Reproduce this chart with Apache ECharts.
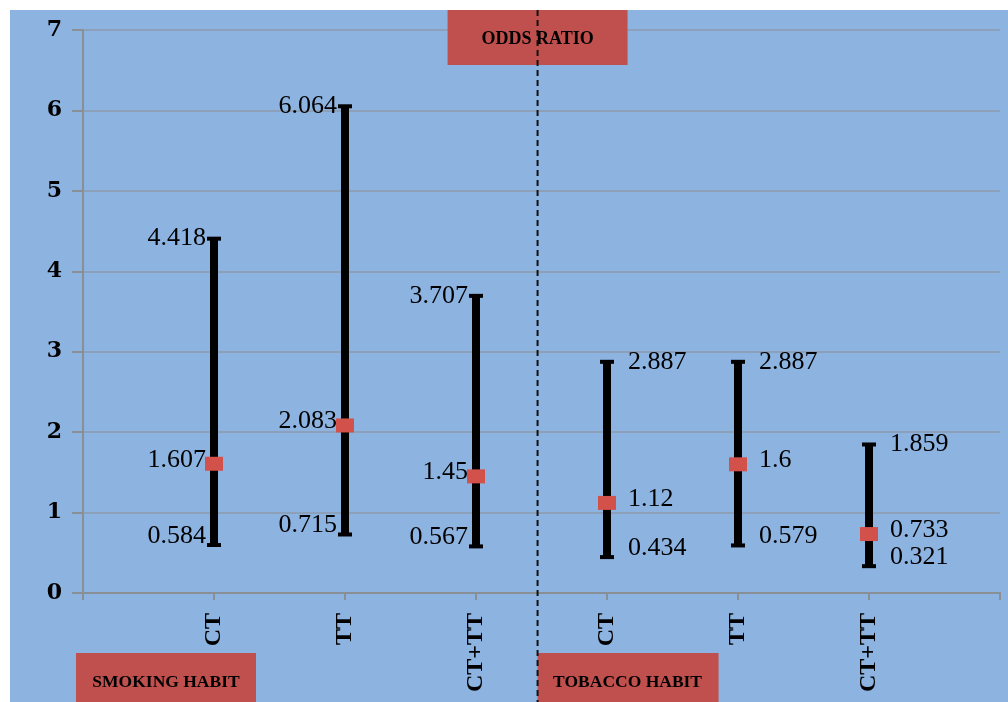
<!DOCTYPE html>
<html>
<head>
<meta charset="utf-8">
<script src="https://cdn.jsdelivr.net/npm/echarts@6/dist/echarts.min.js"></script>
<style>
  html, body { margin: 0; padding: 0; background: #ffffff; }
  #chart { width: 1008px; height: 702px; }
</style>
</head>
<body>
<div id="chart"></div>
<script>
// Genotype groups along the x axis (first three: smoking, last three: tobacco)
const categories = ['CT', 'TT', 'CT+TT', 'CT', 'TT', 'CT+TT'];
// Odds ratio point estimates and 95% confidence limits
const oddsRatio = [1.607, 2.083, 1.45, 1.12, 1.6, 0.733];
const ciLower   = [0.584, 0.715, 0.567, 0.434, 0.579, 0.321];
const ciUpper   = [4.418, 6.064, 3.707, 2.887, 2.887, 1.859];
// Value axis ticks
const yTicks = [0, 1, 2, 3, 4, 5, 6, 7];
// Group captions and heading
const groupNames = ['SMOKING HABIT', 'TOBACCO HABIT'];
const heading = 'ODDS RATIO';
// Position (x units) of the divider between the two habit groups
const groupDivider = 3.47;

const SERIF = '"Liberation Serif", "Times New Roman", serif';
const BOX_RED = '#C0504D';
const MARK_RED = '#D3514B';

// x slots: 0 and 7 are empty padding, groups sit at 1..6
const rows = categories.map((c, i) => [i + 1, ciLower[i], oddsRatio[i], ciUpper[i], i < 3 ? 0 : 1]);

function renderItem(params, api) {
  const x = api.value(0);
  const lo = api.coord([x, api.value(1)]);
  const mid = api.coord([x, api.value(2)]);
  const hi = api.coord([x, api.value(3)]);
  const onLeft = api.value(4) === 0;
  const cx = lo[0];
  const tx = onLeft ? cx - 8 : cx + 21;
  const align = onLeft ? 'right' : 'left';
  const font = '26px ' + SERIF;
  const label = (val, y) => ({
    type: 'text', x: tx, y: y,
    style: { text: String(val), font: font, fill: '#000', align: align, verticalAlign: 'middle' }
  });
  return {
    type: 'group',
    children: [
      { type: 'line', shape: { x1: cx, y1: hi[1], x2: cx, y2: lo[1] }, style: { stroke: '#000', lineWidth: 8 } },
      { type: 'line', shape: { x1: cx - 7, y1: hi[1] + 1, x2: cx + 7, y2: hi[1] + 1 }, style: { stroke: '#000', lineWidth: 4 } },
      { type: 'line', shape: { x1: cx - 7, y1: lo[1] - 1, x2: cx + 7, y2: lo[1] - 1 }, style: { stroke: '#000', lineWidth: 4 } },
      { type: 'rect', shape: { x: cx - 9, y: mid[1] - 7, width: 18, height: 14 }, style: { fill: MARK_RED } },
      label(api.value(3), hi[1] + 1),
      label(api.value(2), mid[1] - 4),
      label(api.value(1), lo[1] - 10)
    ]
  };
}

const chart = echarts.init(document.getElementById('chart'), null, { renderer: 'canvas' });

const option = {
  backgroundColor: '#ffffff',
  animation: false,
  grid: { left: 83, right: 8, top: 30, bottom: 109, containLabel: false },
  xAxis: {
    type: 'value', min: 0, max: 7, interval: 1,
    axisLine: { show: true, lineStyle: { color: '#8a8f96', width: 2 } },
    axisTick: { show: true, length: 7, lineStyle: { color: '#8a8f96', width: 2 } },
    splitLine: { show: false },
    axisLabel: {
      rotate: 90, margin: 20,
      fontFamily: SERIF, fontSize: 24, fontWeight: 'bold', color: '#000',
      formatter: v => categories[v - 1] || ''
    }
  },
  yAxis: {
    type: 'value', min: yTicks[0], max: yTicks[yTicks.length - 1], interval: 1,
    axisLine: { show: true, lineStyle: { color: '#8a8f96', width: 2 } },
    axisTick: { show: true, length: 11, lineStyle: { color: '#8a8f96', width: 2 } },
    splitLine: { show: true, lineStyle: { color: '#8c9aab', width: 1.5 } },
    axisLabel: { margin: 21, fontFamily: '"DejaVu Serif", serif', fontSize: 22, fontWeight: 'bold', color: '#000' }
  },
  series: [{
    type: 'custom',
    renderItem: renderItem,
    data: rows,
    z: 5
  }]
};
chart.setOption(option);

// Decorations placed relative to the plotted divider position
const divX = chart.convertToPixel({ xAxisIndex: 0 }, groupDivider);
chart.setOption({
  graphic: [
    { type: 'rect', z: -100, silent: true, shape: { x: 10, y: 10, width: 998, height: 692 }, style: { fill: '#8DB3E1' } },
    { type: 'line', z: 50, silent: true, shape: { x1: divX, y1: 10, x2: divX, y2: 702 },
      style: { stroke: '#111', lineWidth: 2, lineDash: [6, 4] } },
    { type: 'group', z: 60, children: [
      { type: 'rect', shape: { x: divX - 90, y: 10, width: 180, height: 55 }, style: { fill: BOX_RED } },
      { type: 'text', x: divX, y: 39, style: { text: heading, font: 'bold 18px ' + SERIF, fill: '#000', align: 'center', verticalAlign: 'middle' } }
    ]},
    { type: 'group', z: 60, children: [
      { type: 'rect', shape: { x: 76, y: 653, width: 180, height: 49 }, style: { fill: BOX_RED } },
      { type: 'text', x: 166, y: 682, style: { text: groupNames[0], font: 'bold 17.5px ' + SERIF, fill: '#000', align: 'center', verticalAlign: 'middle' } }
    ]},
    { type: 'group', z: 60, children: [
      { type: 'rect', shape: { x: divX, y: 653, width: 181, height: 49 }, style: { fill: BOX_RED } },
      { type: 'text', x: divX + 90, y: 682, style: { text: groupNames[1], font: 'bold 17.5px ' + SERIF, fill: '#000', align: 'center', verticalAlign: 'middle' } }
    ]}
  ]
});
</script>
</body>
</html>
